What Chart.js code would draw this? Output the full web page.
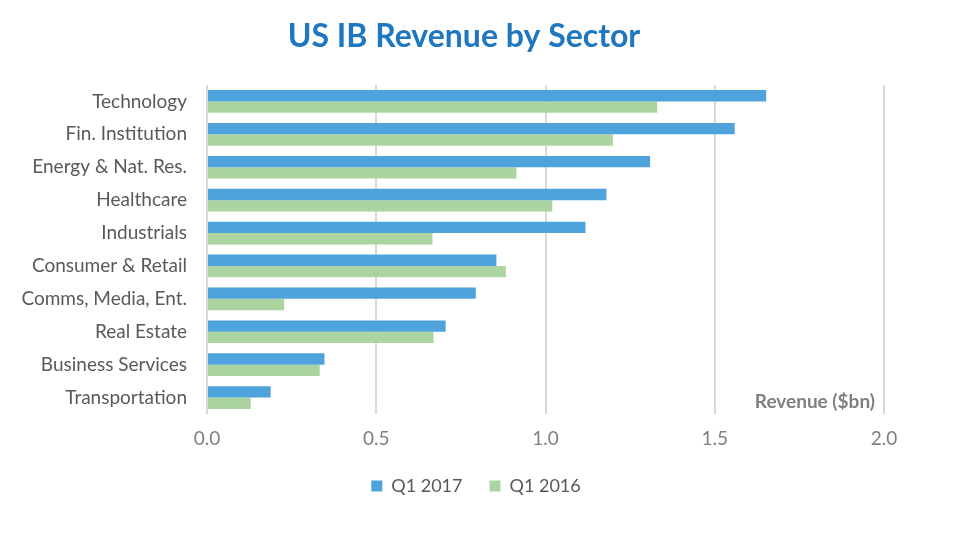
<!DOCTYPE html>
<html>
<head>
<meta charset="utf-8">
<script src="https://cdn.jsdelivr.net/npm/chart.js@4.4.1/dist/chart.umd.min.js"></script>
<style>
  html, body { margin: 0; padding: 0; background: #ffffff; }
  #wrap { width: 960px; height: 552px; position: relative; }
</style>
</head>
<body>
<div id="wrap"><canvas id="c" width="960" height="552"></canvas></div>
<script>
const chartTitle = "US IB Revenue by Sector";
const axisNote = "Revenue ($bn)";
const categories = ["Technology", "Fin. Institution", "Energy & Nat. Res.", "Healthcare", "Industrials",
  "Consumer & Retail", "Comms, Media, Ent.", "Real Estate", "Business Services", "Transportation"];
const seriesNames = ["Q1 2017", "Q1 2016"];
const q1_2017 = [1.652, 1.559, 1.309, 1.180, 1.118, 0.855, 0.794, 0.705, 0.347, 0.188];
const q1_2016 = [1.330, 1.199, 0.914, 1.020, 0.666, 0.883, 0.228, 0.669, 0.333, 0.129];
const xTicks = [0, 0.5, 1.0, 1.5, 2.0];

const FONT = "Lato, 'Open Sans', sans-serif";

const overlay = {
  id: 'overlay',
  afterDraw(chart) {
    const ctx = chart.ctx;
    const ca = chart.chartArea;
    ctx.save();
    ctx.fillStyle = '#1f77c0';
    ctx.font = "bold 32px " + FONT;
    ctx.textAlign = 'center';
    ctx.textBaseline = 'middle';
    ctx.fillText(chartTitle, 464, 37);
    ctx.fillStyle = '#7f7f7f';
    ctx.font = "bold 19px " + FONT;
    ctx.textAlign = 'right';
    ctx.fillText(axisNote, ca.right - 9, ca.bottom - 12);
    ctx.restore();
  }
};

new Chart(document.getElementById('c'), {
  type: 'bar',
  data: {
    labels: categories,
    datasets: [
      { label: seriesNames[0], data: q1_2017, backgroundColor: '#4fa3dc', borderWidth: 0,
        categoryPercentage: 0.69, barPercentage: 1.0, yAxisID: 'y' },
      { label: seriesNames[1], data: q1_2016, backgroundColor: '#acd4a0', borderWidth: 0,
        categoryPercentage: 0.69, barPercentage: 1.0, yAxisID: 'y' }
    ]
  },
  options: {
    indexAxis: 'y',
    responsive: false,
    animation: false,
    layout: { padding: { top: 85, left: 10, right: 18, bottom: 47 } },
    scales: {
      x: {
        min: 0, max: 2,
        afterBuildTicks(scale) { scale.ticks = xTicks.map(v => ({ value: v })); },
        afterFit(scale) { scale.height = 36; },
        grid: { color: '#d9d9d9', lineWidth: 2, drawTicks: false },
        border: { display: false },
        ticks: { padding: 13, color: '#7f7f7f', font: { family: FONT, size: 19 },
          callback: v => Number(v).toFixed(1) }
      },
      y: {
        position: 'left',
        afterFit(scale) { scale.width = 207 - 10; },
        grid: { display: false, drawTicks: false },
        border: { display: false },
        ticks: { padding: 20, color: '#595959', font: { family: FONT, size: 19 } }
      },
      yr: {
        axis: 'y',
        type: 'category',
        position: 'right',
        afterFit(scale) { scale.width = 942 - 884; },
        grid: { display: false, drawTicks: false },
        border: { display: false },
        ticks: { display: false }
      }
    },
    plugins: {
      title: { display: false },
      tooltip: { enabled: false },
      legend: {
        position: 'bottom',
        labels: { boxWidth: 11, boxHeight: 11, padding: 27, color: '#595959',
          font: { family: FONT, size: 18 } }
      }
    }
  },
  plugins: [overlay]
});
</script>
</body>
</html>
